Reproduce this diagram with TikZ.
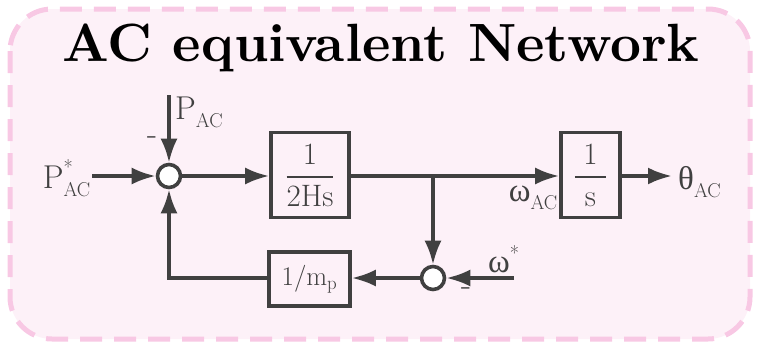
\RequirePackage{fix-cm}
\documentclass[tikz,border=0pt]{standalone}
\usepackage{amsmath}
\usepackage{fontspec}
\usepackage{graphicx}
\usetikzlibrary{arrows.meta}
\newfontfamily\grk{Liberation Serif}
\definecolor{pinkfill}{RGB}{253,241,248}
\definecolor{pinkline}{RGB}{248,200,228}
\definecolor{ink}{RGB}{64,64,64}
\newcommand{\smtxt}[1]{\mbox{\fontsize{20}{20}\selectfont #1}}
\newcommand{\lab}[3]{\mbox{#1}^{\smtxt{#2}}_{\smtxt{#3}}}
\tikzset{
  conn/.style={draw=ink, line width=3.6pt},
  arr/.style={conn, -{Latex[length=24pt,width=17pt]}},
  blk/.style={draw=ink, line width=3.6pt, inner sep=0pt, text=ink, font=\fontsize{31}{34}\selectfont},
  sumc/.style={draw=ink, line width=3.6pt, circle, minimum size=23pt, inner sep=0pt, fill=white},
  lbl/.style={text=ink, inner sep=0pt, font=\fontsize{33}{36}\selectfont},
}
\begin{document}
\begin{tikzpicture}[x=1pt,y=-1pt]
\useasboundingbox (0,0) rectangle (757,346);
\draw[pinkline, fill=pinkfill, line width=5pt, dash pattern=on 22pt off 12pt, rounded corners=42pt] (10,9) rectangle (750,339);
\node[inner sep=0pt] (title) at (381,48) {\resizebox{637pt}{!}{\bfseries AC equivalent Network}};
% blocks
\node[sumc] (s1) at (169,176) {};
\node[blk, minimum width=78pt, minimum height=85pt] (b1) at (310,175) {$\genfrac{}{}{1.8pt}{0}{\mbox{1}}{\mbox{2Hs}}$};
\node[blk, minimum width=59pt, minimum height=85pt] (b2) at (590.5,175) {$\genfrac{}{}{1.8pt}{0}{\mbox{\;1\;}}{\mbox{\;s\;}}$};
\node[blk, minimum width=81pt, minimum height=54pt, font=\fontsize{27}{30}\selectfont] (b3) at (309.5,279) {1/m\textsubscript{p}};
\node[sumc] (s2) at (433,278) {};
% free ends
\coordinate (in1) at (92,176);
\coordinate (ptop) at (169,95);
\coordinate (br) at (433,176);
\coordinate (out) at (672,176);
\coordinate (wst) at (514,278);
% connectors
\draw[arr] (in1) -- (s1.west);
\draw[arr] (ptop) -- (s1.north);
\draw[arr] (s1.east) -- (b1.west |- s1.east);
\draw[arr] (b1.east |- br) -- (b2.west |- br);
\draw[arr] (br) -- (s2.north);
\draw[arr] (wst) -- (s2.east);
\draw[arr] (s2.west) -- (b3.east |- s2.west);
\draw[arr] (b3.west |- s2.west) -| (s1.south);
\draw[arr] (b2.east |- br) -- (out);
% labels
\node[lbl, anchor=east] (lpin) at (91,178) {$\lab{P}{*}{AC}$};
\node[lbl, anchor=west] (lpac) at (175,112) {$\lab{P}{}{AC}$};
\node[lbl] (lm1) at (152,141) {-};
\node[lbl, anchor=east] (lwac) at (558,198) {$\lab{\grk ω}{}{AC}$};
\node[lbl, anchor=west] (lth) at (678,182) {$\lab{\grk θ}{}{AC}$};
\node[lbl, anchor=west] (lws) at (488,263) {$\lab{\grk ω}{*}{}$};
\node[lbl] (lm2) at (466,292) {-};
\end{tikzpicture}
\end{document}
